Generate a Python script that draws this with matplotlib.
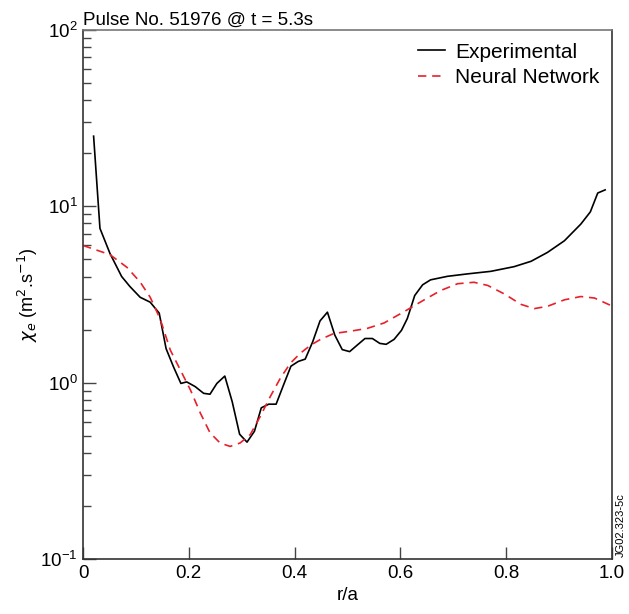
import numpy as np
import matplotlib
matplotlib.use('Agg')
import matplotlib.pyplot as plt
from matplotlib.ticker import LogLocator, NullFormatter, FixedLocator

plt.rcParams['font.family'] = ['Liberation Sans', 'DejaVu Sans']

# experimental chi_e profile
r_exp = [0.020, 0.032, 0.051, 0.073, 0.089, 0.108, 0.127, 0.144, 0.157, 0.171,
         0.185, 0.196, 0.212, 0.228, 0.240, 0.253, 0.268, 0.282, 0.296, 0.310,
         0.324, 0.337, 0.351, 0.365, 0.379, 0.393, 0.407, 0.420, 0.434, 0.448,
         0.462, 0.476, 0.490, 0.504, 0.518, 0.533, 0.547, 0.561, 0.573, 0.588,
         0.602, 0.613, 0.620, 0.627, 0.642, 0.657, 0.689, 0.727, 0.771, 0.815,
         0.847, 0.878, 0.910, 0.941, 0.959, 0.973, 0.987]
chi_exp = [25.0, 7.5, 5.4, 4.0, 3.5, 3.05, 2.86, 2.48, 1.56, 1.23,
           0.99, 1.01, 0.95, 0.87, 0.86, 0.99, 1.09, 0.78, 0.51, 0.46,
           0.53, 0.72, 0.755, 0.755, 0.97, 1.24, 1.32, 1.36, 1.70, 2.24,
           2.51, 1.86, 1.54, 1.50, 1.63, 1.78, 1.78, 1.67, 1.65, 1.76,
           1.98, 2.31, 2.68, 3.12, 3.59, 3.83, 4.01, 4.14, 4.28, 4.55,
           4.88, 5.48, 6.38, 7.93, 9.3, 11.9, 12.4]

# neural network prediction
r_nn = [0.000, 0.051, 0.083, 0.108, 0.127, 0.146, 0.165, 0.184, 0.203, 0.222,
        0.240, 0.259, 0.278, 0.297, 0.316, 0.335, 0.354, 0.373, 0.392, 0.411,
        0.430, 0.449, 0.474, 0.506, 0.537, 0.569, 0.600, 0.613, 0.645, 0.676,
        0.708, 0.739, 0.765, 0.796, 0.828, 0.853, 0.878, 0.910, 0.941, 0.967,
        1.000]
chi_nn = [6.0, 5.32, 4.51, 3.72, 3.05, 2.29, 1.53, 1.18, 0.91, 0.67,
          0.52, 0.455, 0.435, 0.455, 0.507, 0.643, 0.834, 1.06, 1.29, 1.47,
          1.63, 1.76, 1.90, 1.96, 2.03, 2.18, 2.46, 2.59, 2.95, 3.33,
          3.64, 3.71, 3.56, 3.19, 2.78, 2.63, 2.71, 2.95, 3.08, 3.02,
          2.72]

fig = plt.figure(figsize=(6.29, 6.14), dpi=100)
ax = fig.add_axes([0.132, 0.0896, 0.841, 0.8615])

ax.plot(r_exp, chi_exp, color='black', lw=1.2, label='Experimental')
ax.plot(r_nn, chi_nn, color='#e8202a', lw=1.2, dashes=(5, 3.5), label='Neural Network')

ax.set_yscale('log')
ax.set_xlim(0, 1.0)
ax.set_ylim(0.1, 100)

ax.xaxis.set_major_locator(FixedLocator([0, 0.2, 0.4, 0.6, 0.8, 1.0]))
ax.set_xticklabels(['0', '0.2', '0.4', '0.6', '0.8', '1.0'])
ax.yaxis.set_major_locator(LogLocator(base=10, numticks=10))
ax.yaxis.set_minor_locator(LogLocator(base=10, subs=np.arange(2, 10), numticks=10))
ax.yaxis.set_minor_formatter(NullFormatter())

ax.tick_params(axis='both', which='major', direction='in', length=9, width=1,
               labelsize=13.5, color='#444444', pad=4)
ax.tick_params(axis='y', which='minor', direction='in', length=6, width=1, color='#444444')
ax.tick_params(top=False, right=False, which='both')

for s in ax.spines.values():
    s.set_linewidth(1.2)
    s.set_color('#333333')
ax.spines['top'].set_color('#777777')

ax.set_xlabel('r/a', fontsize=13.5, labelpad=4)
ax.set_ylabel(r'$\chi_e$ (m$^2$.s$^{-1}$)', fontsize=13, labelpad=0)

ax.text(0.0, 1.002, 'Pulse No. 51976 @ t = 5.3s', transform=ax.transAxes,
        ha='left', va='bottom', fontsize=13.5)

ax.legend(loc='upper right', frameon=False, fontsize=15, handlelength=1.3,
          handletextpad=0.5, labelspacing=0.32, borderaxespad=0.3,
          borderpad=0.3)

fig.text(0.987, 0.093, 'JG02.323-5c', rotation=90, ha='center', va='bottom', fontsize=8)

fig.savefig('out.png', dpi=100)
